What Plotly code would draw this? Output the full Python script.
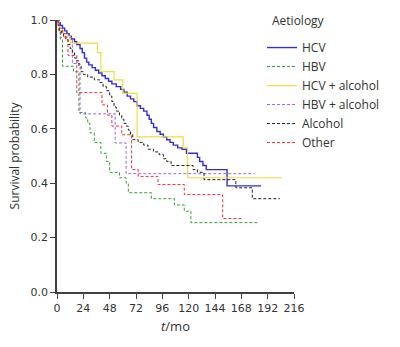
import plotly.graph_objects as go

# Kaplan-Meier step data (time in months, survival probability)
hcv_t = [0, 1, 3, 5, 7, 9, 11, 13, 16, 18, 21, 23, 25, 27, 29, 32, 35, 38, 41, 44, 47, 50, 54, 58, 61, 64, 67, 70, 73, 76, 79, 82, 84, 86, 88, 91, 94, 97, 100, 103, 106, 110, 114, 118, 128, 130, 133, 136, 155, 186]
hcv_s = [1.0, 0.99, 0.98, 0.97, 0.96, 0.95, 0.94, 0.93, 0.92, 0.91, 0.895, 0.88, 0.86, 0.845, 0.835, 0.825, 0.815, 0.805, 0.795, 0.785, 0.775, 0.765, 0.755, 0.745, 0.735, 0.72, 0.71, 0.70, 0.685, 0.675, 0.665, 0.65, 0.635, 0.62, 0.605, 0.59, 0.58, 0.57, 0.56, 0.55, 0.54, 0.53, 0.525, 0.51, 0.495, 0.48, 0.465, 0.45, 0.39, 0.39]

hbv_t = [0, 2, 3, 5, 15, 20, 26, 28, 30, 34, 40, 45, 48, 57, 63, 65, 86, 107, 116, 122, 183]
hbv_s = [1.0, 0.96, 0.93, 0.83, 0.81, 0.66, 0.64, 0.62, 0.585, 0.55, 0.51, 0.48, 0.44, 0.42, 0.40, 0.365, 0.343, 0.32, 0.297, 0.255, 0.255]

hcvalc_t = [0, 2, 6, 12, 37, 40, 52, 60, 73, 115, 119, 205]
hcvalc_s = [1.0, 0.96, 0.94, 0.915, 0.88, 0.81, 0.78, 0.73, 0.57, 0.53, 0.42, 0.42]

hbvalc_t = [0, 2, 3, 14, 21, 53, 63, 180]
hbvalc_s = [1.0, 0.96, 0.935, 0.84, 0.655, 0.548, 0.435, 0.435]

alc_t = [0, 1, 2, 4, 6, 8, 10, 12, 14, 16, 18, 20, 22, 24, 28, 34, 39, 42, 45, 48, 50, 52, 54, 57, 59, 61, 63, 65, 67, 69, 74, 79, 83, 88, 93, 97, 100, 104, 124, 128, 134, 163, 178, 203]
alc_s = [1.0, 0.98, 0.96, 0.95, 0.94, 0.93, 0.91, 0.895, 0.88, 0.86, 0.85, 0.83, 0.81, 0.80, 0.79, 0.78, 0.77, 0.755, 0.74, 0.72, 0.70, 0.68, 0.665, 0.65, 0.635, 0.62, 0.61, 0.595, 0.58, 0.56, 0.55, 0.54, 0.525, 0.515, 0.505, 0.49, 0.48, 0.465, 0.45, 0.44, 0.413, 0.383, 0.343, 0.343]

oth_t = [0, 2, 5, 8, 10, 18, 41, 46, 50, 59, 68, 74, 92, 116, 151, 169]
oth_s = [1.0, 0.97, 0.95, 0.93, 0.87, 0.733, 0.688, 0.65, 0.61, 0.578, 0.45, 0.425, 0.395, 0.358, 0.27, 0.27]

x_ticks = [0, 24, 48, 72, 96, 120, 144, 168, 192, 216]
y_ticks = [0.0, 0.2, 0.4, 0.6, 0.8, 1.0]

series = [
    ("HCV", hcv_t, hcv_s, "#3030d0", "solid", 1.4),
    ("HBV", hbv_t, hbv_s, "#30a030", "3px,2px", 1.0),
    ("HCV + alcohol", hcvalc_t, hcvalc_s, "#f0dc40", "solid", 1.2),
    ("HBV + alcohol", hbvalc_t, hbvalc_s, "#9a66f0", "3px,2px", 1.0),
    ("Alcohol", alc_t, alc_s, "#202020", "3px,2px", 1.0),
    ("Other", oth_t, oth_s, "#f03030", "3px,2px", 1.0),
]

fig = go.Figure()
for name, t, s, col, dash, w in series:
    fig.add_trace(go.Scatter(x=t, y=s, mode="lines", name=name,
                             line=dict(color=col, dash=dash, width=w, shape="hv")))

tick_font = dict(family="DejaVu Sans, Verdana, sans-serif", size=11, color="#333333")
text_font = dict(family="Open Sans, sans-serif", size=12, color="#333333")
fig.update_layout(
    width=400, height=347,
    margin=dict(l=57, r=106, t=20, b=55),
    plot_bgcolor="white", paper_bgcolor="white",
    font=tick_font,
    showlegend=True,
    legend=dict(x=0.865, y=0.952, xanchor="left", yanchor="top",
                bgcolor="rgba(0,0,0,0)", itemwidth=30,
                font=text_font, tracegroupgap=0),
    xaxis=dict(range=[0, 216], tickvals=x_ticks, ticks="outside", ticklen=5,
               showline=True, linecolor="#404040", linewidth=1.5, tickcolor="#404040",
               showgrid=False, zeroline=False,
               title=dict(text="<i>t</i>/mo", standoff=8, font=dict(family="Open Sans, sans-serif", size=13))),
    yaxis=dict(range=[0, 1.0], tickvals=y_ticks, tickformat=".1f", ticks="outside", ticklen=5,
               showline=True, linecolor="#404040", linewidth=1.5, tickcolor="#404040",
               showgrid=False, zeroline=False,
               title=dict(text="Survival probability", standoff=8, font=text_font)),
    annotations=[dict(text="Aetiology", xref="paper", yref="paper", x=1.02, y=1.0,
                      xanchor="center", yanchor="middle", showarrow=False, font=text_font)],
)
fig.write_html("out.html")
